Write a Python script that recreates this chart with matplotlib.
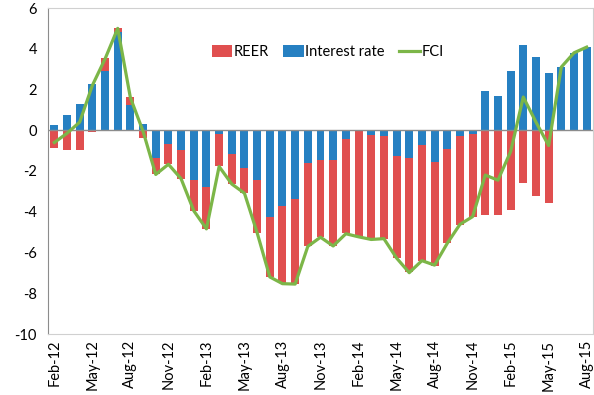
import numpy as np
import matplotlib
matplotlib.use("Agg")
import matplotlib.pyplot as plt

# Monthly contributions to the financial conditions index, Feb-12 .. Aug-15
months = ["Feb-12", "Mar-12", "Apr-12", "May-12", "Jun-12", "Jul-12", "Aug-12", "Sep-12",
          "Oct-12", "Nov-12", "Dec-12", "Jan-13", "Feb-13", "Mar-13", "Apr-13", "May-13",
          "Jun-13", "Jul-13", "Aug-13", "Sep-13", "Oct-13", "Nov-13", "Dec-13", "Jan-14",
          "Feb-14", "Mar-14", "Apr-14", "May-14", "Jun-14", "Jul-14", "Aug-14", "Sep-14",
          "Oct-14", "Nov-14", "Dec-14", "Jan-15", "Feb-15", "Mar-15", "Apr-15", "May-15",
          "Jun-15", "Jul-15", "Aug-15"]

interest_rate = [0.28, 0.77, 1.30, 2.27, 2.90, 4.81, 1.26, 0.33,
                 -1.36, -0.66, -0.95, -2.43, -2.79, -0.16, -1.15, -1.84,
                 -2.43, -4.27, -3.74, -3.37, -1.61, -1.44, -1.48, -0.41,
                 -0.05, -0.25, -0.30, -1.26, -1.36, -0.74, -1.56, -0.94,
                 -0.28, -0.16, 1.92, 1.67, 2.91, 4.19, 3.58, 2.79,
                 3.12, 3.81, 4.10]

reer = [-0.87, -0.95, -0.95, -0.08, 0.63, 0.22, 0.35, -0.36,
        -0.81, -1.01, -1.45, -1.54, -2.05, -1.60, -1.51, -1.25,
        -2.61, -2.92, -3.78, -4.18, -4.09, -3.81, -4.20, -4.65,
        -5.17, -5.09, -5.04, -5.03, -5.62, -5.66, -5.09, -4.61,
        -4.35, -4.08, -4.14, -4.14, -3.91, -2.59, -3.23, -3.58,
        -0.03, -0.03, -0.03]

fci = [-0.60, -0.15, 0.40, 2.20, 3.50, 5.00, 1.60, -0.05,
       -2.17, -1.67, -2.38, -3.95, -4.84, -1.78, -2.64, -3.09,
       -5.03, -7.20, -7.53, -7.55, -5.70, -5.25, -5.68, -5.08,
       -5.23, -5.36, -5.32, -6.27, -6.99, -6.40, -6.62, -5.55,
       -4.62, -4.24, -2.20, -2.45, -1.05, 1.63, 0.40, -0.75,
       3.10, 3.80, 4.08]

red = "#E04F4F"
blue = "#2680C2"
green = "#7CB648"

x = np.arange(len(months))
rate = np.array(interest_rate)
rr = np.array(reer)
# stack REER on top of the interest rate bar only when both share a sign
reer_bottom = np.where(np.sign(rr) == np.sign(rate), rate, 0)

plt.rcParams["font.family"] = ["Lato", "DejaVu Sans"]
plt.rcParams["axes.unicode_minus"] = False

fig = plt.figure(figsize=(5.94, 3.95), dpi=100)
ax = fig.add_axes([48 / 594, 1 - 334 / 395, 545 / 594, 326 / 395])

width = 0.63
b_reer = ax.bar(x, rr, width, bottom=reer_bottom, color=red, label="REER", zorder=2)
b_rate = ax.bar(x, rate, width, color=blue, label="Interest rate", zorder=2)
l_fci, = ax.plot(x, fci, color=green, linewidth=2.3, label="FCI", zorder=3)

ax.axhline(0, color="#8c8c8c", linewidth=1, zorder=2.5)

ax.set_xlim(-0.5, len(months) - 0.5)
ax.set_ylim(-10, 6)
ax.set_yticks(range(-10, 7, 2))
ax.set_xticks(x[::3])
ax.set_xticklabels(months[::3], rotation=90, fontsize=10.5)
ax.tick_params(axis="y", labelsize=10.5, length=0, pad=8)
ax.tick_params(axis="x", length=0, pad=4)

for side in ["top", "right", "bottom"]:
    ax.spines[side].set_color("#d0d0d0")
ax.spines["left"].set_color("#8c8c8c")

ax.legend(handles=[b_reer, b_rate, l_fci], loc="center", bbox_to_anchor=(0.513, 0.865),
          ncol=3, frameon=False, fontsize=10.5, handlelength=1.4, handleheight=0.8,
          handletextpad=0.1, columnspacing=1.0)

fig.savefig("out.png", dpi=100)
